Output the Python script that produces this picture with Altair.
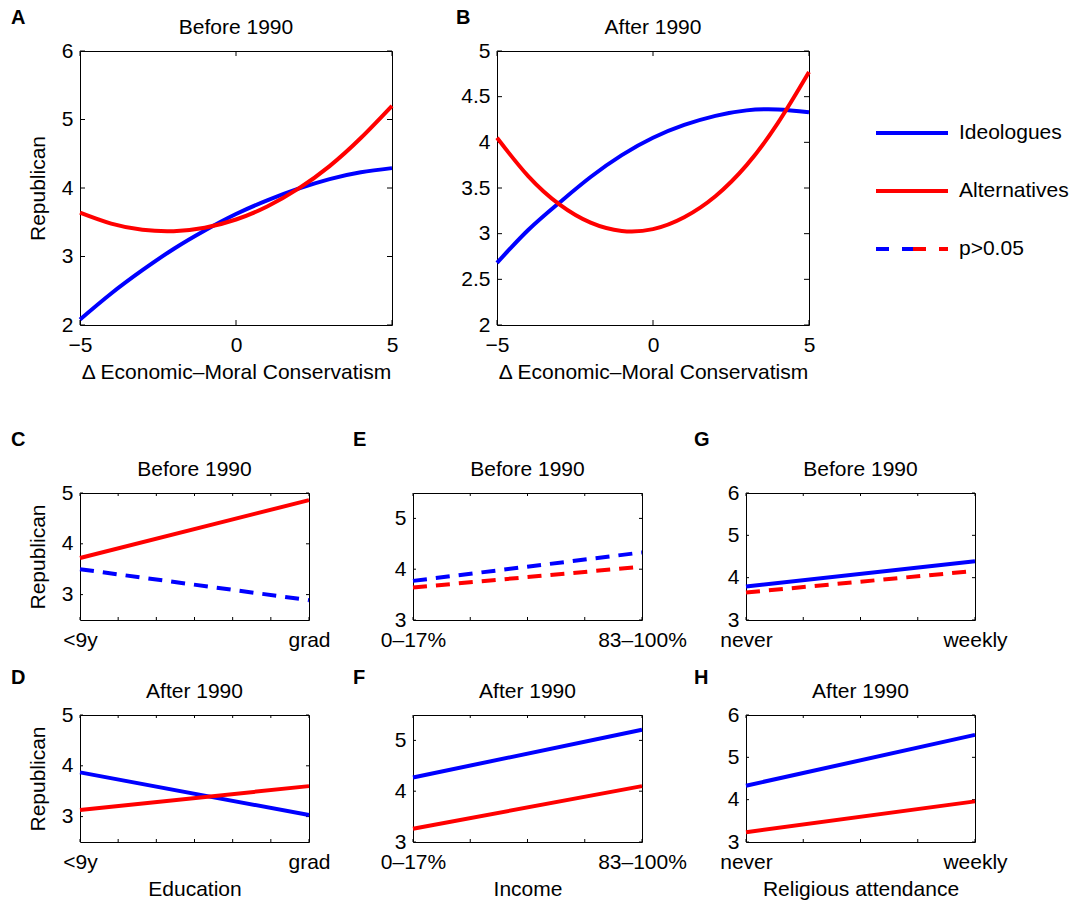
import altair as alt
import pandas as pd

FONT = "Liberation Sans"
FS = 21
BLUE = "#0000ff"
RED = "#ff0000"
DASH = [14, 9]
LW = 4

# ---- data ----
cons_x = [-5, -4, -3, -2, -1, 0, 1, 2, 3, 4, 5]
a_ideo = [2.08, 2.46, 2.80, 3.11, 3.38, 3.62, 3.82, 3.99, 4.13, 4.23, 4.29]
a_alt = [3.64, 3.48, 3.39, 3.37, 3.42, 3.54, 3.73, 3.99, 4.32, 4.73, 5.20]
b_ideo = [2.68, 3.04, 3.34, 3.62, 3.86, 4.05, 4.19, 4.29, 4.35, 4.36, 4.33]
b_alt = [4.05, 3.63, 3.32, 3.12, 3.03, 3.05, 3.18, 3.41, 3.75, 4.21, 4.77]

edu_x = [1, 7]
edu_ticks = [1, 2, 3, 4, 5, 6, 7]
edu_labels = ["<9y", "grad"]
c_ideo = [3.50, 2.89]
c_alt = [3.72, 4.86]
d_ideo = [3.87, 3.03]
d_alt = [3.13, 3.60]

inc_x = [1, 5]
inc_ticks = [1, 2, 3, 4, 5]
inc_labels = ["0–17%", "83–100%"]
e_ideo = [3.77, 4.33]
e_alt = [3.64, 4.05]
f_ideo = [4.27, 5.21]
f_alt = [3.26, 4.10]

rel_x = [1, 5]
rel_ticks = [1, 2, 3, 4, 5]
rel_labels = ["never", "weekly"]
g_ideo = [3.79, 4.39]
g_alt = [3.65, 4.16]
h_ideo = [4.33, 5.53]
h_alt = [3.23, 3.96]

legend_labels = ["Ideologues", "Alternatives", "p>0.05"]


def panel(letter, ldx, ldy, title, xs, ideo, alt_v, ideo_sig, alt_sig,
          xdom, xticks, xlabels, ydom, yticks, w, h,
          xtitle=None, ytitle=None, tl=3, bound=None):
    xscale = alt.Scale(domain=xdom, nice=False, zero=False)
    yscale = alt.Scale(domain=ydom, nice=False, zero=False)
    xaxis_kw = dict(labelBaseline="alphabetic", labelPadding=26, labelAlign="center",
                    title=xtitle, titleX=w / 2, titleY=53, titleBaseline="alphabetic",
                    titleAlign="center")
    if xlabels:
        xaxis_kw["values"] = [xdom[0], xdom[1]]
        xaxis_kw["labelExpr"] = (f"datum.value == {xdom[0]} ? '{xlabels[0]}' : '{xlabels[1]}'")
    else:
        xaxis_kw["values"] = xticks
        xaxis_kw["format"] = "~g"
    xaxis = alt.Axis(**xaxis_kw)
    yaxis = alt.Axis(values=yticks, format="~g", labelPadding=7, labelAlign="right",
                     labelBaseline="middle", title=ytitle, titleX=-36, titleY=h / 2,
                     titleAngle=270, titleBaseline="alphabetic", titleAlign="center")
    X = alt.X("x:Q", scale=xscale, axis=xaxis)
    Y = alt.Y("y:Q", scale=yscale, axis=yaxis)

    layers = []
    if bound:
        layers.append(alt.Chart(pd.DataFrame({"b": [0]})).mark_rule(opacity=0, strokeWidth=1)
                      .encode(x=alt.value(bound[0]), y=alt.value(bound[1]), y2=alt.value(bound[2])))
    xt = pd.DataFrame({"x": xticks})
    yt = pd.DataFrame({"y": yticks})
    layers.append(alt.Chart(xt).mark_rule(color="black", strokeWidth=1)
                  .encode(x=X, y=alt.value(h), y2=alt.value(h - tl)))
    layers.append(alt.Chart(xt).mark_rule(color="black", strokeWidth=1)
                  .encode(x=X, y=alt.value(0), y2=alt.value(tl)))
    layers.append(alt.Chart(yt).mark_rule(color="black", strokeWidth=1)
                  .encode(y=Y, x=alt.value(0), x2=alt.value(tl)))
    layers.append(alt.Chart(yt).mark_rule(color="black", strokeWidth=1)
                  .encode(y=Y, x=alt.value(w - tl), x2=alt.value(w)))
    for vals, col, sig in [(ideo, BLUE, ideo_sig), (alt_v, RED, alt_sig)]:
        kw = dict(color=col, strokeWidth=LW, interpolate="natural")
        if not sig:
            kw["strokeDash"] = DASH
        df = pd.DataFrame({"x": xs, "y": vals})
        layers.append(alt.Chart(df).mark_line(**kw).encode(x=X, y=Y))
    layers.append(alt.Chart(pd.DataFrame({"t": [letter]}))
                  .mark_text(align="left", baseline="alphabetic", font=FONT, fontSize=20,
                             fontWeight="bold", color="black")
                  .encode(text="t:N", x=alt.value(ldx), y=alt.value(ldy)))
    layers.append(alt.Chart(pd.DataFrame({"t": [title]}))
                  .mark_text(align="center", baseline="alphabetic", font=FONT, fontSize=FS,
                             color="black")
                  .encode(text="t:N", x=alt.value(w / 2), y=alt.value(-17)))
    return alt.layer(*layers).properties(width=w, height=h)


WB, HB = 312, 274
WS, HS = 229, 127
XT = "Δ Economic–Moral Conservatism"

pA = panel("A", -69, -27, "Before 1990", cons_x, a_ideo, a_alt, True, True,
           [-5, 5], [-5, 0, 5], None, [2, 6], [2, 3, 4, 5, 6], WB, HB,
           xtitle=XT, ytitle="Republican", tl=5, bound=(-79, -50, 349))
pB = panel("B", -41, -27, "After 1990", cons_x, b_ideo, b_alt, True, True,
           [-5, 5], [-5, 0, 5], None, [2, 5], [2, 2.5, 3, 3.5, 4, 4.5, 5], WB, HB,
           xtitle=XT, tl=5)

# legend drawn as its own small chart
lscale = alt.Scale(type="point", domain=legend_labels, range=[82, 198], padding=0)
LY = alt.Y("lab:N", scale=lscale, axis=None)
leg_layers = [
    alt.Chart(pd.DataFrame({"lab": [legend_labels[0]]})).mark_rule(color=BLUE, strokeWidth=LW)
    .encode(x=alt.value(-38), x2=alt.value(34), y=LY),
    alt.Chart(pd.DataFrame({"lab": [legend_labels[1]]})).mark_rule(color=RED, strokeWidth=LW)
    .encode(x=alt.value(-38), x2=alt.value(34), y=LY),
    alt.Chart(pd.DataFrame({"lab": [legend_labels[2]]})).mark_rule(color=BLUE, strokeWidth=LW, strokeDash=[13, 13])
    .encode(x=alt.value(-38), x2=alt.value(-1), y=LY),
    alt.Chart(pd.DataFrame({"lab": [legend_labels[2]]})).mark_rule(color=RED, strokeWidth=LW, strokeDash=[13, 13])
    .encode(x=alt.value(-1), x2=alt.value(34), y=LY),
    alt.Chart(pd.DataFrame({"lab": legend_labels})).mark_text(align="left", baseline="middle", font=FONT,
                                                              fontSize=FS, color="black")
    .encode(x=alt.value(45), y=LY, text="lab:N"),
]
pLeg = alt.layer(*leg_layers).properties(width=120, height=HB,
                                         view=alt.ViewBackground(stroke="transparent"))

pC = panel("C", -69, -47, "Before 1990", edu_x, c_ideo, c_alt, False, True,
           [1, 7], edu_ticks, edu_labels, [2.5, 5], [3, 4, 5], WS, HS,
           ytitle="Republican", bound=(-79, -91, 167))
pE = panel("E", -60, -47, "Before 1990", inc_x, e_ideo, e_alt, False, False,
           [1, 5], inc_ticks, inc_labels, [3, 5.5], [3, 4, 5], WS, HS)
pG = panel("G", -52, -47, "Before 1990", rel_x, g_ideo, g_alt, True, False,
           [1, 5], rel_ticks, rel_labels, [3, 6], [3, 4, 5, 6], WS, HS)

pD = panel("D", -69, -31, "After 1990", edu_x, d_ideo, d_alt, True, True,
           [1, 7], edu_ticks, edu_labels, [2.5, 5], [3, 4, 5], WS, HS,
           xtitle="Education", ytitle="Republican", bound=(-79, -53, 183))
pF = panel("F", -60, -31, "After 1990", inc_x, f_ideo, f_alt, True, True,
           [1, 5], inc_ticks, inc_labels, [3, 5.5], [3, 4, 5], WS, HS,
           xtitle="Income")
pH = panel("H", -52, -31, "After 1990", rel_x, h_ideo, h_alt, True, True,
           [1, 5], rel_ticks, rel_labels, [3, 6], [3, 4, 5, 6], WS, HS,
           xtitle="Religious attendance")

row1 = alt.hconcat(pA, pB, pLeg, spacing=105, bounds="flush")
row2 = alt.hconcat(pC, pE, pG, spacing=104, bounds="flush")
row3 = alt.hconcat(pD, pF, pH, spacing=104, bounds="flush")

chart = (
    alt.vconcat(row1, row2, row3, spacing=0)
    .properties(padding=0, background="white")
    .configure_view(stroke="black", strokeWidth=1)
    .configure_axis(labelFont=FONT, labelFontSize=FS, labelColor="black",
                    titleFont=FONT, titleFontSize=FS, titleColor="black",
                    titleFontWeight="normal", domain=False, ticks=False, tickSize=0,
                    grid=False, labelFlush=False, labelOverlap=False)
)

chart.save("out.html", embed_options={"renderer": "svg", "actions": False})
